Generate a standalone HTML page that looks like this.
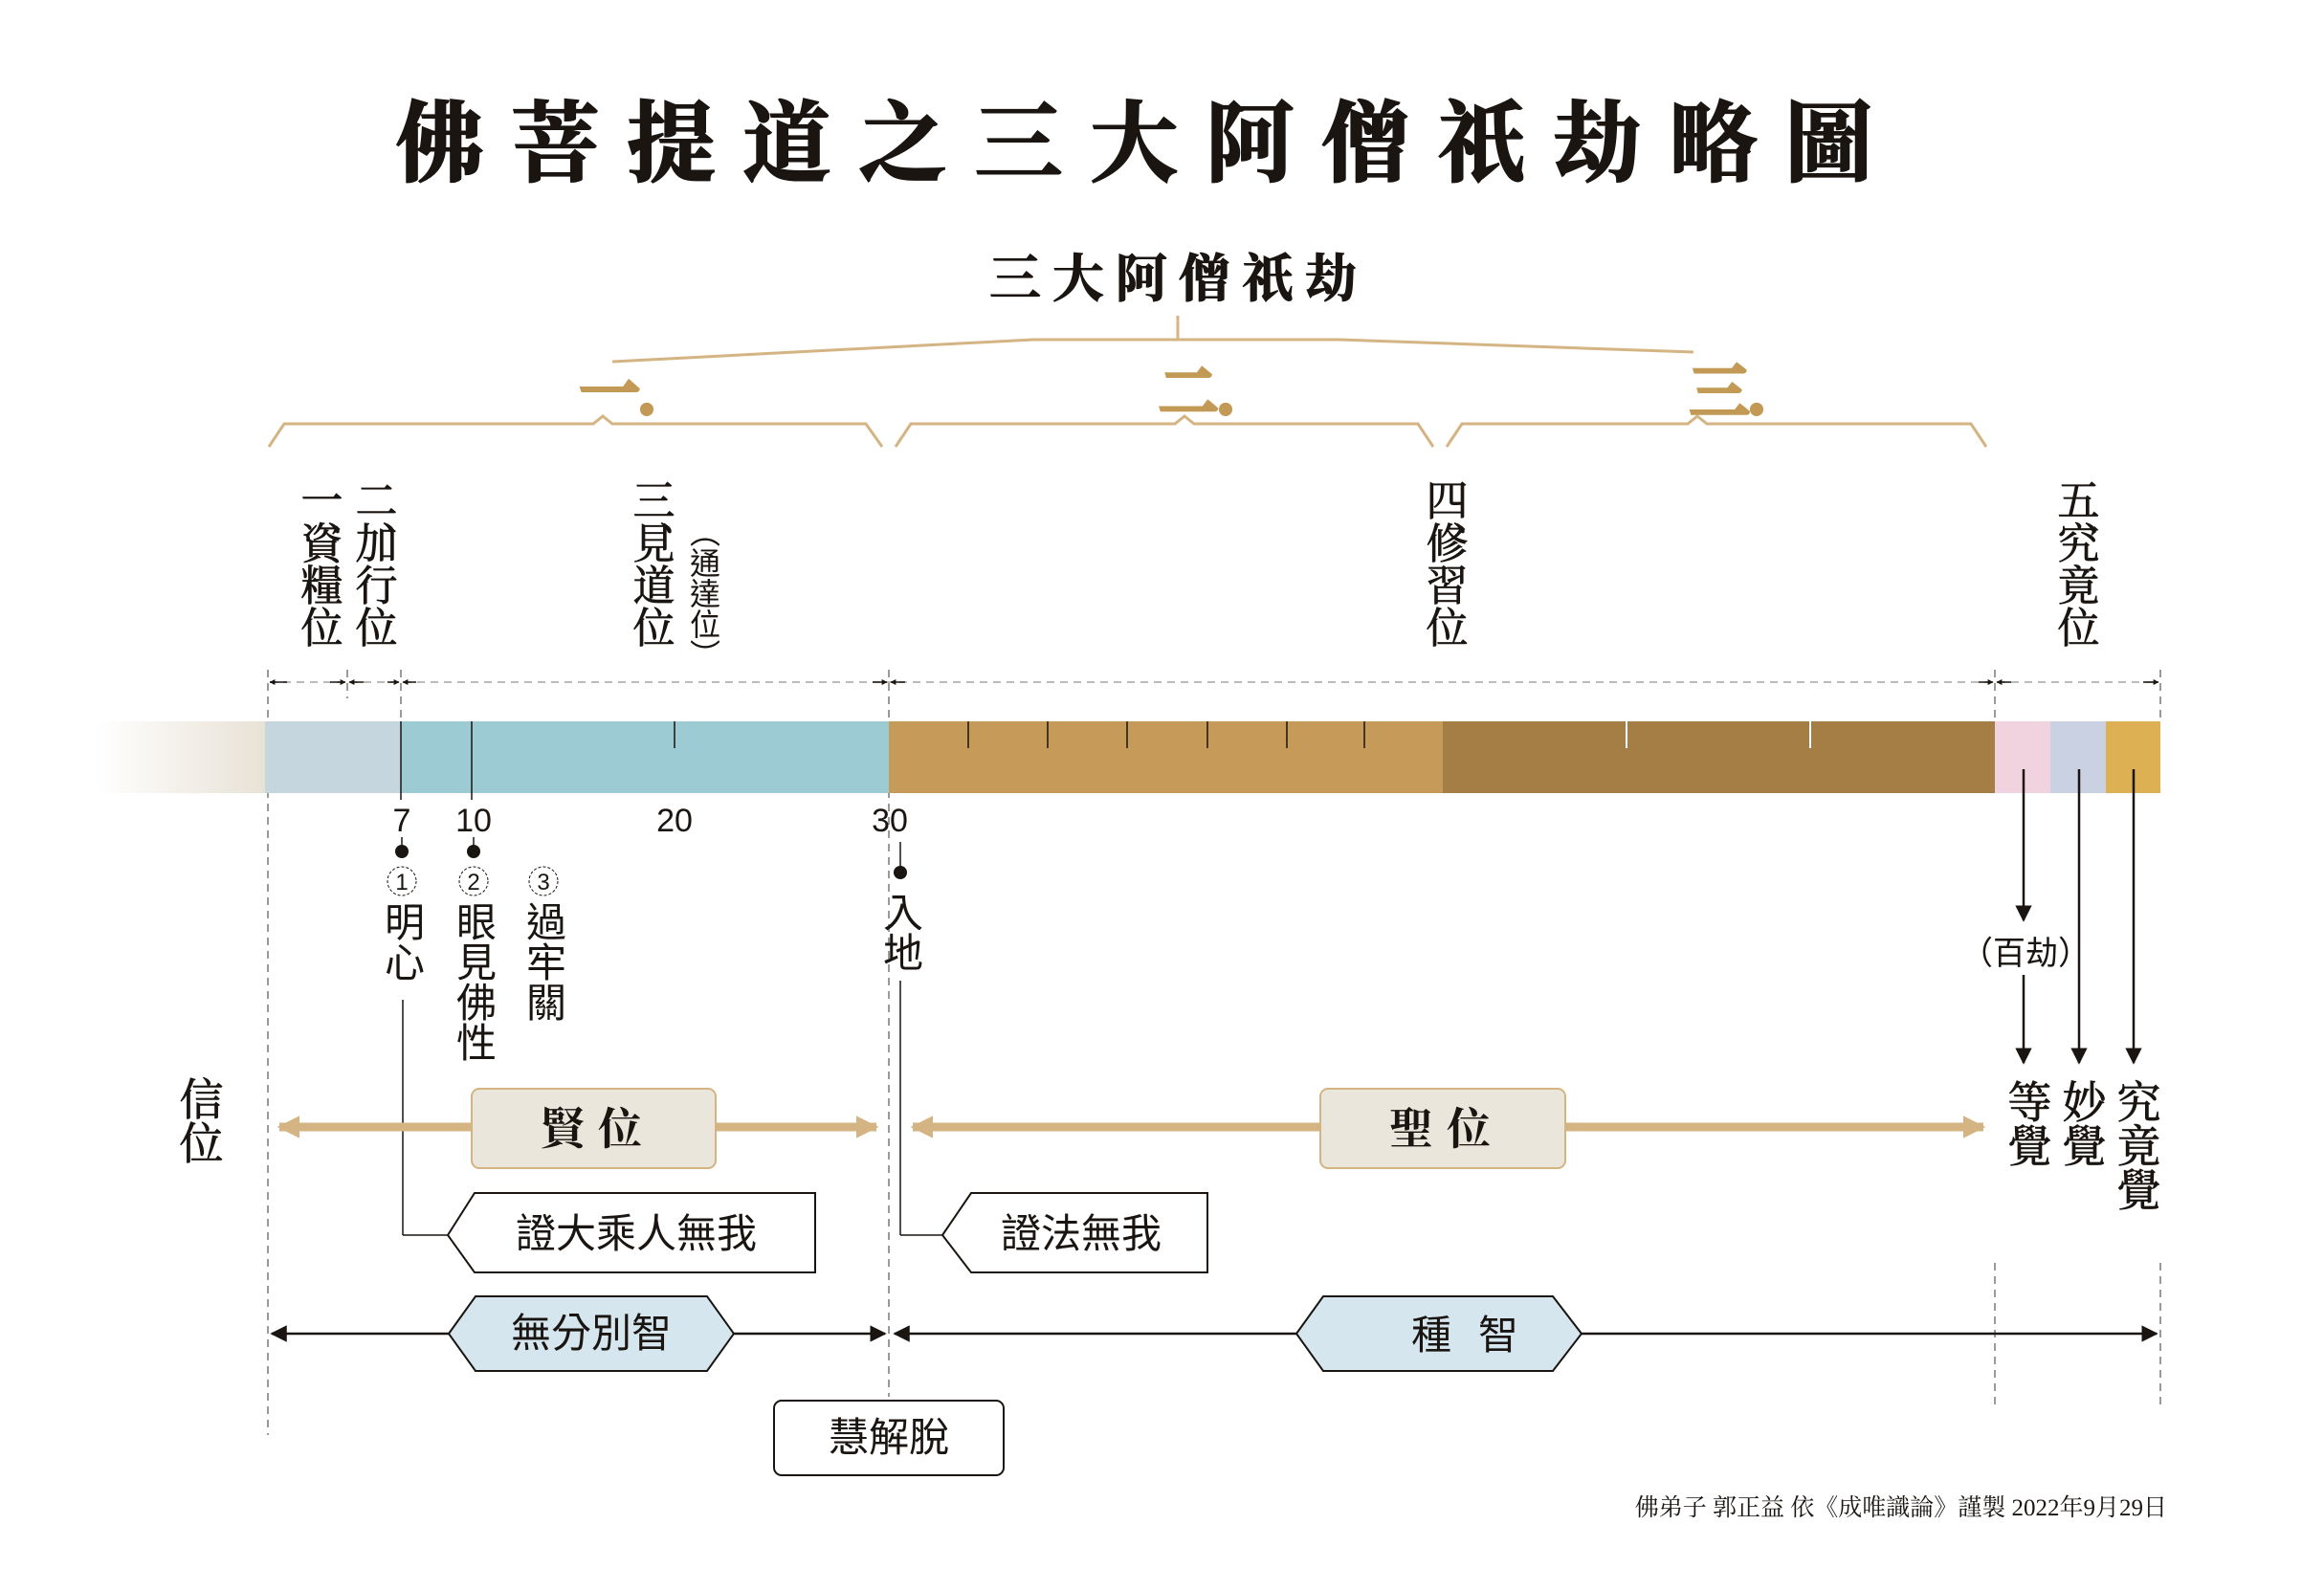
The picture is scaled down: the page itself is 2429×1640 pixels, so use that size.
<!DOCTYPE html>
<html><head><meta charset="utf-8"><style>
html,body{margin:0;padding:0;background:#fff;}
svg{display:block;}
.br{font-family:"Liberation Serif","Noto Serif CJK SC",serif;font-weight:bold;fill:#1a1511;}
.sr{font-family:"Liberation Serif","Noto Serif CJK SC",serif;fill:#1a1511;}
.sn{font-family:"Liberation Sans","Noto Sans CJK TC",sans-serif;fill:#1a1511;}
.v{writing-mode:vertical-rl;}
</style></head><body>
<svg width="2429" height="1640" viewBox="0 0 2429 1640" xmlns="http://www.w3.org/2000/svg">
<defs>
<linearGradient id="fade" x1="0" x2="1" y1="0" y2="0">
<stop offset="0" stop-color="#e8e2d6" stop-opacity="0"/><stop offset="1" stop-color="#e8e2d6"/>
</linearGradient>
<marker id="ah" viewBox="0 0 10 10" refX="9" refY="5" markerWidth="7" markerHeight="7" orient="auto-start-reverse"><path d="M0,0 L10,5 L0,10 z" fill="#1a1511"/></marker>
<marker id="sm" viewBox="0 0 10 10" refX="9" refY="5" markerWidth="4" markerHeight="4" orient="auto-start-reverse"><path d="M0,0 L10,5 L0,10 z" fill="#1a1511"/></marker>
<marker id="ta" viewBox="0 0 10 10" refX="9" refY="5" markerWidth="2.6" markerHeight="2.6" orient="auto-start-reverse"><path d="M0,0 L10,5 L0,10 z" fill="#d4b483"/></marker>
</defs>

<!-- Title -->
<text class="br" x="1200" y="182" font-size="92" text-anchor="middle" letter-spacing="29" stroke="#1a1511" stroke-width="2">佛菩提道之三大阿僧祇劫略圖</text>
<text class="br" x="1232" y="310" font-size="54" text-anchor="middle" letter-spacing="12" stroke="#1a1511" stroke-width="1">三大阿僧祇劫</text>

<!-- top connector -->
<g stroke="#d4b483" stroke-width="3" fill="none">
<line x1="1231" y1="330" x2="1231" y2="356"/>
<polyline points="640,378 1080,355 1400,355 1770,368"/>
<polyline points="281,467 297,443 620,443 630,435 640,443 905,443 922,467"/>
<polyline points="936,467 952,443 1228,443 1238,435 1248,443 1482,443 1498,467"/>
<polyline points="1512,467 1528,443 1764,443 1774,435 1784,443 2060,443 2076,467"/>
</g>
<g class="br" font-size="62" style="fill:#c39a55" stroke="#c39a55" stroke-width="4">
<text x="645" y="432" text-anchor="middle">一.</text>
<text x="1250" y="432" text-anchor="middle">二.</text>
<text x="1805" y="432" text-anchor="middle">三.</text>
</g>

<!-- stage labels -->
<g class="sr" font-size="44" stroke="#1a1511" stroke-width="0.8">
<text class="v" x="332" y="500">一、</text><text class="v" x="332" y="545">資糧位</text>
<text class="v" x="389" y="500">二、</text><text class="v" x="389" y="545">加行位</text>
<text class="v" x="679" y="500">三、</text><text class="v" x="679" y="545">見道位</text>
<text class="v" x="1508" y="500">四、</text><text class="v" x="1508" y="545">修習位</text>
<text class="v" x="2168" y="500">五、</text><text class="v" x="2168" y="545">究竟位</text>
</g>
<text class="sn v" x="735" y="540" font-size="32">（通達位）</text>

<!-- dimension line -->
<g stroke="#9a9a9a" stroke-width="2" stroke-dasharray="8,6" fill="none">
<line x1="280" y1="700" x2="280" y2="1500"/>
<line x1="363" y1="700" x2="363" y2="730"/>
<line x1="419" y1="700" x2="419" y2="750"/>
<line x1="929" y1="700" x2="929" y2="1460"/>
<line x1="2085" y1="700" x2="2085" y2="754"/>
<line x1="2258" y1="700" x2="2258" y2="754"/>
<line x1="2085" y1="1320" x2="2085" y2="1470"/>
<line x1="2258" y1="1320" x2="2258" y2="1470"/>
<line x1="282" y1="713" x2="2256" y2="713" stroke="#bbb"/>
</g>
<g stroke="#1a1511" stroke-width="1.5" fill="none">
<line x1="300" y1="713" x2="282" y2="713" marker-end="url(#sm)"/>
<line x1="345" y1="713" x2="361" y2="713" marker-end="url(#sm)"/>
<line x1="380" y1="713" x2="365" y2="713" marker-end="url(#sm)"/>
<line x1="405" y1="713" x2="417" y2="713" marker-end="url(#sm)"/>
<line x1="435" y1="713" x2="421" y2="713" marker-end="url(#sm)"/>
<line x1="912" y1="713" x2="927" y2="713" marker-end="url(#sm)"/>
<line x1="946" y1="713" x2="931" y2="713" marker-end="url(#sm)"/>
<line x1="2068" y1="713" x2="2083" y2="713" marker-end="url(#sm)"/>
<line x1="2102" y1="713" x2="2087" y2="713" marker-end="url(#sm)"/>
<line x1="2240" y1="713" x2="2256" y2="713" marker-end="url(#sm)"/>
</g>

<!-- bar -->
<rect x="100" y="754" width="177" height="75" fill="url(#fade)"/>
<rect x="277" y="754" width="142" height="75" fill="#c6d6de"/>
<rect x="419" y="754" width="510" height="75" fill="#9ccbd3"/>
<rect x="929" y="754" width="579" height="75" fill="#c69a58"/>
<rect x="1508" y="754" width="577" height="75" fill="#a57e46"/>
<rect x="2085" y="754" width="58" height="75" fill="#f1d3df"/>
<rect x="2143" y="754" width="58" height="75" fill="#c9d1e3"/>
<rect x="2201" y="754" width="57" height="75" fill="#ddb054"/>
<g stroke="#1a1511" stroke-width="1.5">
<line x1="419" y1="754" x2="419" y2="836"/>
<line x1="493" y1="754" x2="493" y2="836"/>
<line x1="705" y1="754" x2="705" y2="782"/>
<line x1="1012" y1="754" x2="1012" y2="782"/>
<line x1="1095" y1="754" x2="1095" y2="782"/>
<line x1="1178" y1="754" x2="1178" y2="782"/>
<line x1="1262" y1="754" x2="1262" y2="782"/>
<line x1="1345" y1="754" x2="1345" y2="782"/>
<line x1="1426" y1="754" x2="1426" y2="782"/>
</g>
<g stroke="#fff" stroke-width="2">
<line x1="1700" y1="754" x2="1700" y2="782"/>
<line x1="1892" y1="754" x2="1892" y2="782"/>
</g>

<!-- numbers & markers -->
<g class="sn" font-size="34" text-anchor="middle">
<text x="420" y="869">7</text><text x="495" y="869">10</text><text x="705" y="869">20</text><text x="930" y="869">30</text>
</g>
<g stroke="#1a1511" stroke-width="1.5">
<line x1="420" y1="875" x2="420" y2="890"/><line x1="495" y1="875" x2="495" y2="890"/>
<line x1="941" y1="880" x2="941" y2="912"/>
<line x1="421" y1="1045" x2="421" y2="1291"/><line x1="421" y1="1291" x2="468" y2="1291"/>
<line x1="941" y1="1025" x2="941" y2="1291"/><line x1="941" y1="1291" x2="985" y2="1291"/>
</g>
<circle cx="420" cy="890" r="7" fill="#1a1511"/><circle cx="495" cy="890" r="7" fill="#1a1511"/><circle cx="941" cy="912" r="7" fill="#1a1511"/>
<g fill="none" stroke="#1a1511" stroke-width="1" stroke-dasharray="3,2">
<circle cx="420" cy="921" r="15"/><circle cx="495" cy="921" r="15"/><circle cx="568" cy="921" r="15"/>
</g>
<g class="sn" font-size="24" text-anchor="middle"><text x="420" y="930">1</text><text x="495" y="930">2</text><text x="568" y="930">3</text></g>
<g class="sn" font-size="42">
<text class="v" x="420" y="942">明心</text>
<text class="v" x="495" y="942">眼見佛性</text>
<text class="v" x="568" y="942">過牢關</text>
<text class="v" x="941" y="932">入地</text>
</g>

<!-- right arrows -->
<g stroke="#1a1511" stroke-width="2.5" fill="none">
<line x1="2115" y1="804" x2="2115" y2="962" marker-end="url(#ah)"/>
<line x1="2115" y1="1019" x2="2115" y2="1111" marker-end="url(#ah)"/>
<line x1="2173" y1="804" x2="2173" y2="1111" marker-end="url(#ah)"/>
<line x1="2230" y1="804" x2="2230" y2="1111" marker-end="url(#ah)"/>
</g>
<text class="sn" x="2117" y="1008" font-size="34" text-anchor="middle">（百劫）</text>
<g class="sr" font-size="46" stroke="#1a1511" stroke-width="0.8">
<text class="v" x="2118" y="1128">等覺</text>
<text class="v" x="2175" y="1128">妙覺</text>
<text class="v" x="2232" y="1128">究竟覺</text>
</g>
<text class="sr v" x="207" y="1125" font-size="46" stroke="#1a1511" stroke-width="0.8">信位</text>

<!-- tan arrows -->
<g stroke="#d4b483" stroke-width="9" fill="none">
<line x1="292" y1="1178" x2="916" y2="1178" marker-start="url(#ta)" marker-end="url(#ta)"/>
<line x1="954" y1="1178" x2="2068" y2="1178" marker-start="url(#ta)"/>
<line x1="2060" y1="1178" x2="2073" y2="1178" marker-end="url(#ta)"/>
</g>
<rect x="493" y="1138" width="255" height="83" rx="8" fill="#ebe6dc" stroke="#d4b483" stroke-width="2"/>
<rect x="1380" y="1138" width="256" height="83" rx="8" fill="#ebe6dc" stroke="#d4b483" stroke-width="2"/>
<text class="br" x="625" y="1196" font-size="46" text-anchor="middle" letter-spacing="14">賢位</text>
<text class="br" x="1512" y="1196" font-size="46" text-anchor="middle" letter-spacing="14">聖位</text>

<!-- pentagon boxes -->
<polygon points="468,1291 496,1247 852,1247 852,1330 496,1330" fill="#fff" stroke="#1a1511" stroke-width="2"/>
<polygon points="985,1291 1015,1247 1262,1247 1262,1330 1015,1330" fill="#fff" stroke="#1a1511" stroke-width="2"/>
<text class="sn" x="665" y="1304" font-size="42" text-anchor="middle">證大乘人無我</text>
<text class="sn" x="1130" y="1304" font-size="42" text-anchor="middle">證法無我</text>

<!-- black arrows & hexagons -->
<g stroke="#1a1511" stroke-width="2.5" fill="none">
<line x1="284" y1="1394" x2="925" y2="1394" marker-start="url(#ah)" marker-end="url(#ah)"/>
<line x1="935" y1="1394" x2="2254" y2="1394" marker-start="url(#ah)" marker-end="url(#ah)"/>
</g>
<polygon points="469,1394 497,1355 739,1355 767,1394 739,1433 497,1433" fill="#d5e6ef" stroke="#1a1511" stroke-width="2"/>
<polygon points="1355,1394 1383,1355 1623,1355 1653,1394 1623,1433 1383,1433" fill="#d5e6ef" stroke="#1a1511" stroke-width="2"/>
<text class="sn" x="618" y="1408" font-size="42" text-anchor="middle">無分別智</text>
<text class="sn" x="1475" y="1410" font-size="42">種</text>
<text class="sn" x="1545" y="1410" font-size="42">智</text>

<rect x="809" y="1464" width="240" height="78" rx="8" fill="#fff" stroke="#1a1511" stroke-width="2"/>
<text class="sn" x="929" y="1517" font-size="42" text-anchor="middle">慧解脫</text>

<text class="sr" x="2265" y="1584" font-size="25" text-anchor="end">佛弟子 郭正益 依《成唯識論》謹製 2022年9月29日</text>
</svg>
</body></html>
